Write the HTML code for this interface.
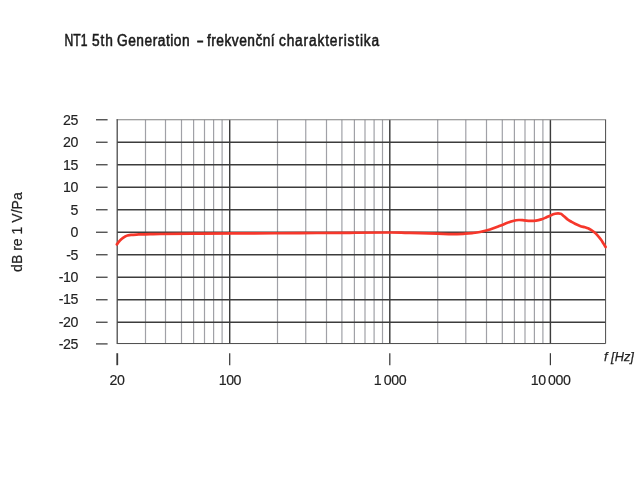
<!DOCTYPE html>
<html lang="cs"><head><meta charset="utf-8"><title>NT1 5th Generation – frekvenční charakteristika</title>
<style>
html,body{margin:0;padding:0;background:#fff;width:640px;height:480px;overflow:hidden}
svg{display:block;font-family:"Liberation Sans",Arial,Helvetica,sans-serif}
</style></head><body>
<svg width="640" height="480" viewBox="0 0 640 480">
<rect width="640" height="480" fill="#fff"/>
<g stroke="#a0a1a7" stroke-width="1.2">
<line x1="145.50" y1="119.8" x2="145.50" y2="343.55"/>
<line x1="165.50" y1="119.8" x2="165.50" y2="343.55"/>
<line x1="181.50" y1="119.8" x2="181.50" y2="343.55"/>
<line x1="193.60" y1="119.8" x2="193.60" y2="343.55"/>
<line x1="204.50" y1="119.8" x2="204.50" y2="343.55"/>
<line x1="213.60" y1="119.8" x2="213.60" y2="343.55"/>
<line x1="222.10" y1="119.8" x2="222.10" y2="343.55"/>
<line x1="277.50" y1="119.8" x2="277.50" y2="343.55"/>
<line x1="305.75" y1="119.8" x2="305.75" y2="343.55"/>
<line x1="326.50" y1="119.8" x2="326.50" y2="343.55"/>
<line x1="341.90" y1="119.8" x2="341.90" y2="343.55"/>
<line x1="354.40" y1="119.8" x2="354.40" y2="343.55"/>
<line x1="365.00" y1="119.8" x2="365.00" y2="343.55"/>
<line x1="374.10" y1="119.8" x2="374.10" y2="343.55"/>
<line x1="382.50" y1="119.8" x2="382.50" y2="343.55"/>
<line x1="437.70" y1="119.8" x2="437.70" y2="343.55"/>
<line x1="465.80" y1="119.8" x2="465.80" y2="343.55"/>
<line x1="486.50" y1="119.8" x2="486.50" y2="343.55"/>
<line x1="502.30" y1="119.8" x2="502.30" y2="343.55"/>
<line x1="514.40" y1="119.8" x2="514.40" y2="343.55"/>
<line x1="525.00" y1="119.8" x2="525.00" y2="343.55"/>
<line x1="534.40" y1="119.8" x2="534.40" y2="343.55"/>
<line x1="542.90" y1="119.8" x2="542.90" y2="343.55"/>
</g>
<g stroke="#3c3c3c" stroke-width="1.45">
<line x1="229.70" y1="119.8" x2="229.70" y2="343.55"/>
<line x1="389.80" y1="119.8" x2="389.80" y2="343.55"/>
<line x1="550.40" y1="119.8" x2="550.40" y2="343.55"/>
<line x1="117.2" y1="322.25" x2="605.6" y2="322.25"/>
<line x1="117.2" y1="299.75" x2="605.6" y2="299.75"/>
<line x1="117.2" y1="277.25" x2="605.6" y2="277.25"/>
<line x1="117.2" y1="254.75" x2="605.6" y2="254.75"/>
<line x1="117.2" y1="232.25" x2="605.6" y2="232.25"/>
<line x1="117.2" y1="209.75" x2="605.6" y2="209.75"/>
<line x1="117.2" y1="187.25" x2="605.6" y2="187.25"/>
<line x1="117.2" y1="164.75" x2="605.6" y2="164.75"/>
<line x1="117.2" y1="142.25" x2="605.6" y2="142.25"/>
</g>
<path d="M116.60000000000001 119.8H606.1" fill="none" stroke="#808080" stroke-width="1.1"/>
<path d="M117.2 119.3V344.05" fill="none" stroke="#444" stroke-width="1.25"/>
<path d="M117.2 343.55H605.6V119.8" fill="none" stroke="#4a4a4a" stroke-width="1"/>
<g stroke="#444" stroke-width="1.3">
<line x1="96.0" y1="343.90" x2="107.6" y2="343.90"/>
<line x1="96.0" y1="322.25" x2="107.6" y2="322.25"/>
<line x1="96.0" y1="299.75" x2="107.6" y2="299.75"/>
<line x1="96.0" y1="277.25" x2="107.6" y2="277.25"/>
<line x1="96.0" y1="254.75" x2="107.6" y2="254.75"/>
<line x1="96.0" y1="232.25" x2="107.6" y2="232.25"/>
<line x1="96.0" y1="209.75" x2="107.6" y2="209.75"/>
<line x1="96.0" y1="187.25" x2="107.6" y2="187.25"/>
<line x1="96.0" y1="164.75" x2="107.6" y2="164.75"/>
<line x1="96.0" y1="142.25" x2="107.6" y2="142.25"/>
<line x1="96.0" y1="119.75" x2="107.6" y2="119.75"/>
</g>
<line x1="117.25" y1="353.2" x2="117.25" y2="365.2" stroke="#3a3a3a" stroke-width="1.8"/>
<line x1="229.70" y1="353.2" x2="229.70" y2="365.2" stroke="#3a3a3a" stroke-width="1.25"/>
<line x1="389.80" y1="353.2" x2="389.80" y2="365.2" stroke="#3a3a3a" stroke-width="1.25"/>
<line x1="550.40" y1="353.2" x2="550.40" y2="365.2" stroke="#3a3a3a" stroke-width="1.25"/>
<path d="M116.9 244.4C117.25 243.95 118.32 242.52 119 241.7C119.68 240.88 120.33 240.13 121 239.5C121.67 238.87 122.33 238.38 123 237.9C123.67 237.42 124.25 237.00 125 236.6C125.75 236.20 126.47 235.80 127.5 235.5C128.53 235.20 129.33 234.98 131.2 234.8C133.07 234.62 135.57 234.57 138.7 234.45C141.83 234.33 146.45 234.17 150 234.1C153.55 234.03 151.67 234.09 160 234.0C168.33 233.91 185.00 233.66 200 233.55C215.00 233.44 233.33 233.43 250 233.35C266.67 233.27 283.33 233.19 300 233.1C316.67 233.01 335.00 232.90 350 232.8C365.00 232.70 380.83 232.50 390 232.5C399.17 232.50 400.00 232.68 405 232.8C410.00 232.92 414.58 233.05 420 233.2C425.42 233.35 432.08 233.53 437.5 233.7C442.92 233.87 447.92 234.20 452.5 234.2C457.08 234.20 461.75 233.88 465 233.7C468.25 233.52 469.50 233.38 472 233.1C474.50 232.82 477.00 232.60 480 232C483.00 231.40 486.67 230.53 490 229.5C493.33 228.47 497.08 226.93 500 225.8C502.92 224.68 505.33 223.55 507.5 222.75C509.67 221.95 511.12 221.46 513 221C514.88 220.54 516.92 220.12 518.75 220C520.58 219.88 522.12 220.15 524 220.3C525.88 220.45 528.00 220.85 530 220.9C532.00 220.95 534.12 220.85 536 220.6C537.88 220.35 539.58 219.92 541.25 219.4C542.92 218.88 544.44 218.17 546 217.5C547.56 216.83 549.10 216.02 550.6 215.4C552.10 214.78 553.75 214.13 555 213.8C556.25 213.47 557.18 213.40 558.1 213.4C559.02 213.40 559.77 213.53 560.5 213.8C561.23 214.07 561.33 214.07 562.5 215C563.67 215.93 566.08 218.32 567.5 219.4C568.92 220.48 569.75 220.78 571 221.5C572.25 222.22 573.50 222.97 575 223.7C576.50 224.43 578.33 225.30 580 225.9C581.67 226.50 583.67 226.90 585 227.3C586.33 227.70 587.00 227.87 588 228.3C589.00 228.73 590.00 229.28 591 229.9C592.00 230.52 592.92 231.10 594 232C595.08 232.90 596.29 233.97 597.5 235.3C598.71 236.63 600.25 238.62 601.25 240C602.25 241.38 602.77 242.43 603.5 243.6C604.23 244.77 605.25 246.43 605.6 247" fill="none" stroke="#f6372b" stroke-width="2.7" stroke-linecap="round" stroke-linejoin="round"/>
<g font-size="14.2" text-anchor="end" fill="#222" stroke="#222" stroke-width="0.15">
<text x="77.9" y="348.95" letter-spacing="-0.45">-25</text>
<text x="77.9" y="327.00" letter-spacing="-0.45">-20</text>
<text x="77.9" y="304.05" letter-spacing="-0.45">-15</text>
<text x="77.9" y="282.00" letter-spacing="-0.45">-10</text>
<text x="77.9" y="259.50" letter-spacing="-0.45">-5</text>
<text x="77.9" y="237.00" letter-spacing="-0.45">0</text>
<text x="77.9" y="214.50" letter-spacing="-0.45">5</text>
<text x="77.9" y="192.00" letter-spacing="-0.45">10</text>
<text x="77.9" y="169.50" letter-spacing="-0.45">15</text>
<text x="77.9" y="147.00" letter-spacing="-0.45">20</text>
<text x="77.9" y="124.50" letter-spacing="-0.45">25</text>
</g>
<g font-size="14.2" text-anchor="middle" fill="#222" stroke="#222" stroke-width="0.15" style="word-spacing:-1px">
<text x="116.95" y="385.45" letter-spacing="-0.45">20</text>
<text x="229.90" y="385.45" letter-spacing="-0.45">100</text>
<text x="390.00" y="385.45" letter-spacing="-0.45">1 000</text>
<text x="550.60" y="385.45" letter-spacing="-0.45">10 000</text>
</g>
<text x="604" y="361" font-size="12.8" font-style="italic" fill="#222" stroke="#222" stroke-width="0.25">f [Hz]</text>
<text transform="translate(21.5 232.1) rotate(-90)" text-anchor="middle" font-size="14.05" fill="#222" stroke="#222" stroke-width="0.2">dB re 1 V/Pa</text>
<text x="64.45" y="46.3" font-size="15.6" fill="#1a1a1a" stroke="#1a1a1a" stroke-width="0.55" textLength="22.95" lengthAdjust="spacingAndGlyphs">NT1</text>
<text transform="translate(92.00 46.3) scale(0.88 1)" font-size="15.6" fill="#1a1a1a" stroke="#1a1a1a" stroke-width="0.55" textLength="23.75" lengthAdjust="spacing">5th</text>
<text transform="translate(116.95 46.3) scale(0.88 1)" font-size="15.6" fill="#1a1a1a" stroke="#1a1a1a" stroke-width="0.55" textLength="82.56" lengthAdjust="spacing">Generation</text>
<text x="197.40" y="46.3" font-size="15.6" fill="#1a1a1a" stroke="#1a1a1a" stroke-width="0.9" textLength="5.40" lengthAdjust="spacingAndGlyphs">–</text>
<text transform="translate(207.00 46.3) scale(0.88 1)" font-size="15.6" fill="#1a1a1a" stroke="#1a1a1a" stroke-width="0.55" textLength="76.93" lengthAdjust="spacing">frekvenční</text>
<text transform="translate(278.95 46.3) scale(0.88 1)" font-size="15.6" fill="#1a1a1a" stroke="#1a1a1a" stroke-width="0.55" textLength="113.92" lengthAdjust="spacing">charakteristika</text>
</svg>
</body></html>
